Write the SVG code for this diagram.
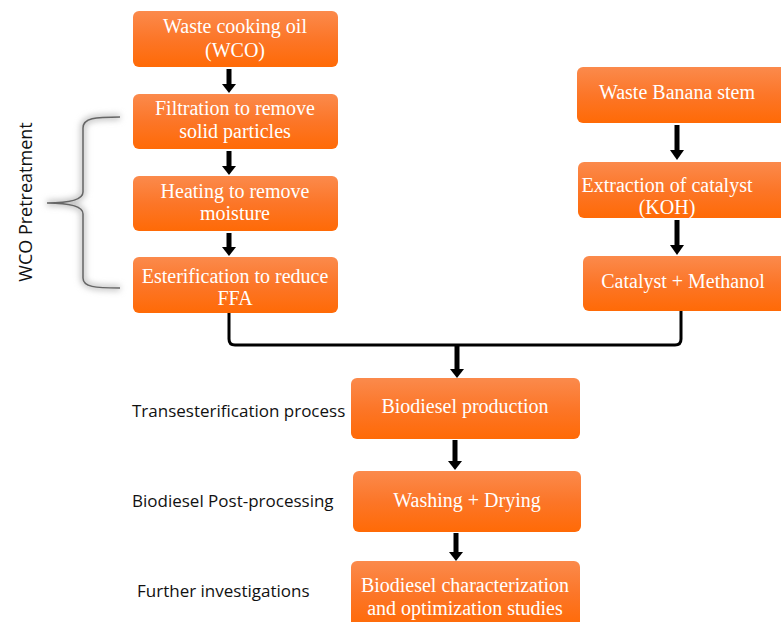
<svg xmlns="http://www.w3.org/2000/svg" width="781" height="622" viewBox="0 0 781 622">
<defs>
<linearGradient id="og" x1="0" y1="0" x2="0" y2="1">
<stop offset="0" stop-color="#FB8A4C"/>
<stop offset="0.5" stop-color="#FC7628"/>
<stop offset="1" stop-color="#FF6A06"/>
</linearGradient>
<filter id="glow" x="-50%" y="-20%" width="200%" height="140%">
<feGaussianBlur stdDeviation="3"/>
</filter>
</defs>
<style>
.box{fill:url(#og);}
.bt{font-family:"Liberation Serif","Times New Roman",serif;font-size:20px;fill:#fff;text-anchor:middle;}
.lab{font-family:"Open Sans","Liberation Sans",sans-serif;font-size:17px;fill:#111;}
.shaft{stroke:#000;stroke-width:5;fill:none;}
.head{fill:#000;}
</style>
<rect width="781" height="622" fill="#fff"/>

<g id="brace">
<path d="M120,117 C95,117 83,118 83,128 L83,192 C83,200 70,203 47,203 C70,203 83,206 83,214 L83,278 C83,287 95,288 120,288" fill="none" stroke="#bbb" stroke-width="5" filter="url(#glow)"/>
<path d="M120,117 C95,117 83,118 83,128 L83,192 C83,200 70,203 47,203 C70,203 83,206 83,214 L83,278 C83,287 95,288 120,288" fill="none" stroke="#666" stroke-width="1.5"/>
</g>
<g id="wco-pretreatment-label">
<text class="lab" style="font-size:18px" transform="translate(32,202) rotate(-90)" text-anchor="middle">WCO Pretreatment</text>
</g>

<g id="n1"><rect class="box" x="133" y="11" width="205" height="56" rx="6"/>
<text class="bt" x="235" y="33">Waste cooking oil</text><text class="bt" x="235" y="57">(WCO)</text></g>
<g id="n2"><rect class="box" x="133" y="94" width="205" height="55" rx="6"/>
<text class="bt" x="235" y="115">Filtration to remove</text><text class="bt" x="235" y="138">solid particles</text></g>
<g id="n3"><rect class="box" x="133" y="176" width="205" height="55" rx="6"/>
<text class="bt" x="235" y="198">Heating to remove</text><text class="bt" x="235" y="220">moisture</text></g>
<g id="n4"><rect class="box" x="133" y="257" width="205" height="56" rx="6"/>
<text class="bt" x="235" y="283">Esterification to reduce</text><text class="bt" x="235" y="305">FFA</text></g>

<g id="r1"><rect class="box" x="577" y="67" width="210" height="56" rx="6"/>
<text class="bt" x="677" y="99">Waste Banana stem</text></g>
<g id="r2"><rect class="box" x="578" y="162" width="210" height="56" rx="6"/>
<text class="bt" x="667" y="192">Extraction of catalyst</text><text class="bt" x="667" y="214">(KOH)</text></g>
<g id="r3"><rect class="box" x="583" y="256" width="205" height="55" rx="6"/>
<text class="bt" x="683" y="288">Catalyst + Methanol</text></g>

<g id="b1"><rect class="box" x="351" y="378" width="229" height="61" rx="6"/>
<text class="bt" x="465" y="413">Biodiesel production</text></g>
<g id="b2"><rect class="box" x="353" y="471" width="228" height="61" rx="6"/>
<text class="bt" x="467" y="507">Washing + Drying</text></g>
<g id="b3"><rect class="box" x="351" y="561" width="229" height="66" rx="6"/>
<text class="bt" x="465" y="592">Biodiesel characterization</text><text class="bt" x="465" y="615">and optimization studies</text></g>

<g id="side-labels">
<text class="lab" x="132" y="417">Transesterification process</text>
<text class="lab" x="132" y="507">Biodiesel Post-processing</text>
<text class="lab" x="137" y="597">Further investigations</text>
</g>

<g id="connectors">
<path class="shaft" d="M229,69 V85"/><path class="head" d="M222,84 H236 L229,93 Z"/>
<path class="shaft" d="M229,151 V167"/><path class="head" d="M222,166 H236 L229,175 Z"/>
<path class="shaft" d="M229,233 V248"/><path class="head" d="M222,247 H236 L229,256 Z"/>
<path class="shaft" d="M677,125 V151"/><path class="head" d="M670,150 H684 L677,160 Z"/>
<path class="shaft" d="M677,220 V246"/><path class="head" d="M670,245 H684 L677,255 Z"/>
<path d="M229,313 V339 Q229,345 235,345 H675 Q681,345 681,339 V311" fill="none" stroke="#000" stroke-width="3"/>
<path class="shaft" d="M457,345 V370"/><path class="head" d="M450,369 H464 L457,378 Z"/>
<path class="shaft" d="M455,440 V462"/><path class="head" d="M448,461 H462 L455,470 Z"/>
<path class="shaft" d="M456,533 V553"/><path class="head" d="M449,552 H463 L456,561 Z"/>
</g>
</svg>
